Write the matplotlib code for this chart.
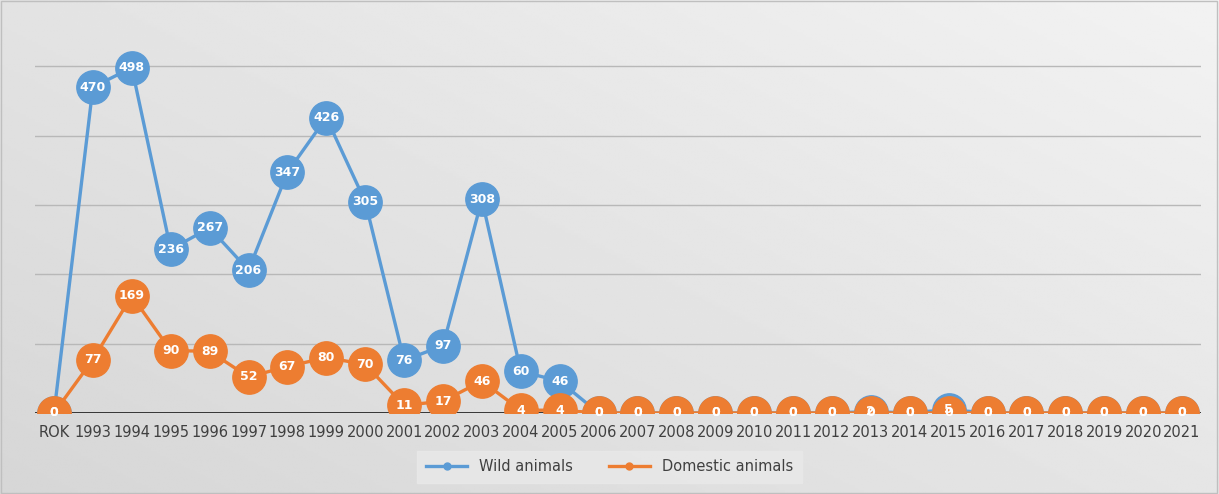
import numpy as np
import matplotlib.pyplot as plt

years = ["ROK"] + [str(y) for y in range(1993, 2022)]
wild = [0, 470, 498, 236, 267, 206, 347, 426, 305, 76, 97, 308, 60, 46,
        0, 0, 0, 0, 0, 0, 0, 2, 0, 5, 0, 0, 0, 0, 0, 0]
domestic = [0, 77, 169, 90, 89, 52, 67, 80, 70, 11, 17, 46, 4, 4,
            0, 0, 0, 0, 0, 0, 0, 0, 0, 0, 0, 0, 0, 0, 0, 0]

blue = "#5B9BD5"
orange = "#ED7D31"

fig = plt.figure(figsize=(12.19, 4.94), dpi=100)

# gradient background
bg = fig.add_axes([0, 0, 1, 1], zorder=-10)
gy, gx = np.mgrid[0:1:200j, 0:1:400j]
grad = 0.84 + 0.11 * (0.55 * gx + 0.45 * gy)
bg.imshow(grad, cmap="gray", vmin=0, vmax=1, aspect="auto",
          extent=[0, 1, 0, 1], origin="lower")
bg.set_xlim(0, 1)
bg.set_ylim(0, 1)
bg.axis("off")
bg.add_patch(plt.Rectangle((0.001, 0.002), 0.997, 0.995, fill=False,
                           edgecolor="#bfbfbf", linewidth=1))

ax = fig.add_axes([0.029, 0.164, 0.956, 0.814])
ax.patch.set_alpha(0)
x = np.arange(len(years))
ax.set_xlim(-0.48, len(years) - 0.52)
ax.set_ylim(0, 580)

for v in [100, 200, 300, 400, 500]:
    ax.axhline(v, color="#b8b8b8", linewidth=1, zorder=1)
ax.axhline(0, color="#262626", linewidth=2, zorder=2)

ax.plot(x, wild, color=blue, linewidth=2.4, marker="o", markersize=24,
        markeredgecolor=blue, label="Wild animals", zorder=3)
ax.plot(x, domestic, color=orange, linewidth=2.4, marker="o", markersize=24,
        markeredgecolor=orange, label="Domestic animals", zorder=4)

for xi, v in zip(x, wild):
    ax.text(xi, v, str(v), color="white", fontsize=9, fontweight="bold",
            ha="center", va="center", zorder=5, clip_on=False)
for xi, v in zip(x, domestic):
    ax.text(xi, v, str(v), color="white", fontsize=9, fontweight="bold",
            ha="center", va="center", zorder=6, clip_on=False)

ax.set_xticks(x)
ax.set_xticklabels(years, fontsize=10.5, color="#404040")
ax.tick_params(axis="x", length=0, pad=9)
ax.set_yticks([])
for s in ax.spines.values():
    s.set_visible(False)

h1, = plt.plot([], [], color=blue, linewidth=2.4, marker="o", markersize=5)
h2, = plt.plot([], [], color=orange, linewidth=2.4, marker="o", markersize=5)
leg = fig.legend([h1, h2], ["Wild animals", "Domestic animals"], loc="center",
                 bbox_to_anchor=(0.5, 0.055), ncol=2, frameon=True,
                 fontsize=10.5, handlelength=2.8, columnspacing=2.5,
                 fancybox=False, borderpad=0.6)
leg.get_frame().set_facecolor("#e9e9e9")
leg.get_frame().set_edgecolor("#e9e9e9")
for t in leg.get_texts():
    t.set_color("#404040")

fig.savefig("out.png", dpi=100)
